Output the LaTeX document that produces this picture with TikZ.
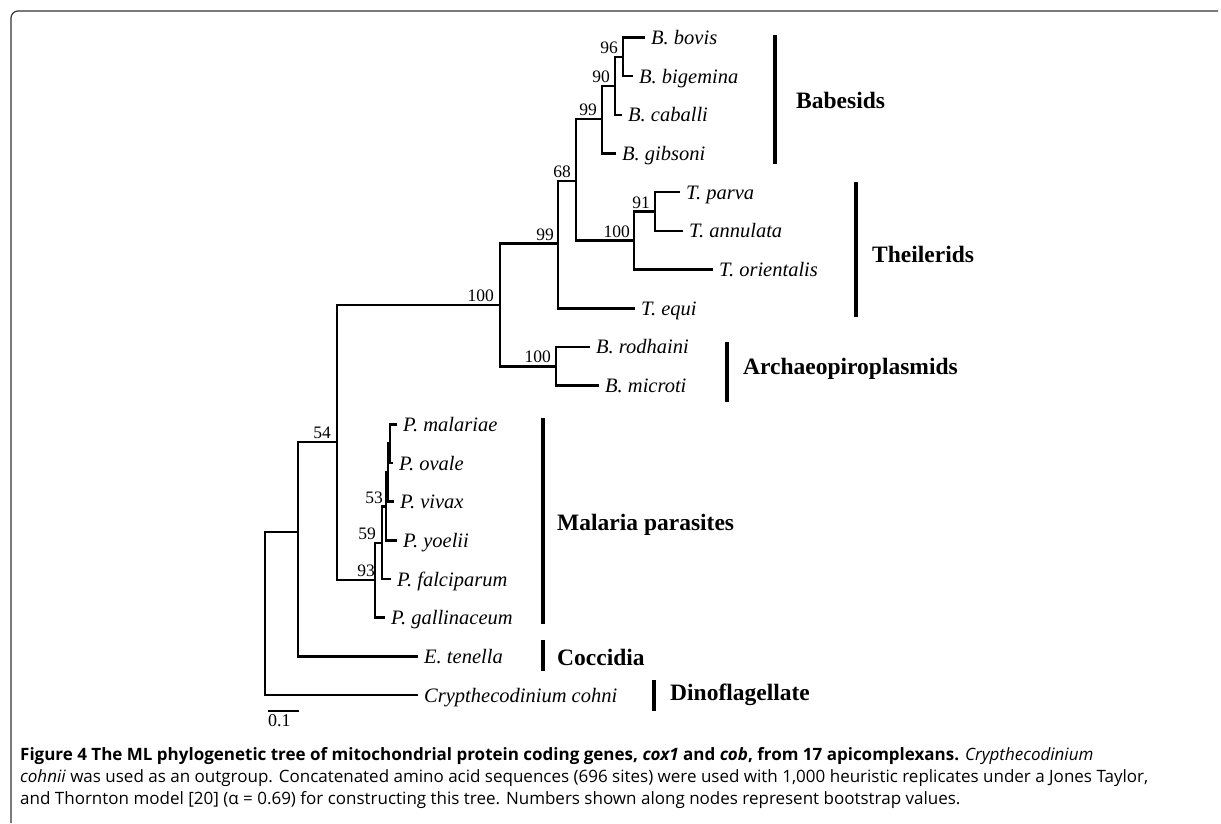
\documentclass[tikz,border=0pt]{standalone}
\usepackage{fontspec}
\setmainfont{Liberation Serif}
\newfontfamily\capfont{Open Sans}
\begin{document}
\begin{tikzpicture}[x=1pt,y=-1pt,
  br/.style={line width=2.5pt, line join=miter},
  leaf/.style={anchor=west, inner xsep=6pt, inner ysep=0pt, font=\fontsize{20.5pt}{24pt}\selectfont\itshape, text height=14pt, text depth=0pt},
  bs/.style={anchor=south east, inner sep=0pt, font=\fontsize{17.5pt}{20pt}\selectfont},
  grp/.style={anchor=west, inner sep=0pt, font=\fontsize{23.5pt}{28pt}\selectfont\bfseries},
  bar/.style={line width=4.5pt},
  capline/.style={anchor=base west, inner sep=0pt, font=\capfont\fontsize{17pt}{20pt}\selectfont},
]
\useasboundingbox (0,0) rectangle (1221,823);
% frame
\draw[line width=1.2pt, draw=black!80, rounded corners=7pt] (11,823) |- (1218,11);
% leaves
\node[leaf] (bovis) at (645,37.5) {B. bovis};
\node[leaf] (bigemina) at (633,76.2) {B. bigemina};
\node[leaf] (caballi) at (622,114.9) {B. caballi};
\node[leaf] (gibsoni) at (616,153.5) {B. gibsoni};
\node[leaf] (parva) at (680,192.2) {T. parva};
\node[leaf] (annulata) at (683,230.9) {T. annulata};
\node[leaf] (orientalis) at (713,269.6) {T. orientalis};
\node[leaf] (equi) at (635,308.3) {T. equi};
\node[leaf] (rodhaini) at (590,346.9) {B. rodhaini};
\node[leaf] (microti) at (599,385.6) {B. microti};
\node[leaf] (malariae) at (397,424.3) {P. malariae};
\node[leaf] (ovale) at (393,463.0) {P. ovale};
\node[leaf] (vivax) at (394,501.7) {P. vivax};
\node[leaf] (yoelii) at (397,540.3) {P. yoelii};
\node[leaf] (falciparum) at (391,579.0) {P. falciparum};
\node[leaf] (gallinaceum) at (385,617.7) {P. gallinaceum};
\node[leaf] (tenella) at (418,656.4) {E. tenella};
\node[leaf] (cohni) at (418,695.1) {Crypthecodinium cohni};
% internal nodes
\coordinate (n96) at (623,56.9);
\coordinate (n90) at (615,85.9);
\coordinate (n99a) at (602,119.2);
\coordinate (n91) at (655,211.5);
\coordinate (n100t) at (634,240.6);
\coordinate (n68) at (576,180.8);
\coordinate (n99b) at (558,243.5);
\coordinate (n100r) at (556,366.3);
\coordinate (n100) at (500,305.0);
\coordinate (nA) at (390,443.7);
\coordinate (nB) at (388,472.7);
\coordinate (n53) at (386,506.5);
\coordinate (n59) at (382,542.8);
\coordinate (n93) at (375,580.2);
\coordinate (n54) at (337,442.0);
\coordinate (nE) at (298,532.0);
\coordinate (root) at (265,600.0);
% branches
\draw[br] (n96) |- (bovis.west);
\draw[br] (n96) |- (bigemina.west);
\draw[br] (n90) |- (n96);
\draw[br] (n90) |- (caballi.west);
\draw[br] (n99a) |- (n90);
\draw[br] (n99a) |- (gibsoni.west);
\draw[br] (n91) |- (parva.west);
\draw[br] (n91) |- (annulata.west);
\draw[br] (n100t) |- (n91);
\draw[br] (n100t) |- (orientalis.west);
\draw[br] (n68) |- (n99a);
\draw[br] (n68) |- (n100t);
\draw[br] (n99b) |- (n68);
\draw[br] (n99b) |- (equi.west);
\draw[br] (n100r) |- (rodhaini.west);
\draw[br] (n100r) |- (microti.west);
\draw[br] (n100) |- (n99b);
\draw[br] (n100) |- (n100r);
\draw[br] (nA) |- (malariae.west);
\draw[br] (nA) |- (ovale.west);
\draw[br] (nB) |- (nA);
\draw[br] (nB) |- (vivax.west);
\draw[br] (n53) |- (nB);
\draw[br] (n53) |- (yoelii.west);
\draw[br] (n59) |- (n53);
\draw[br] (n59) |- (falciparum.west);
\draw[br] (n93) |- (n59);
\draw[br] (n93) |- (gallinaceum.west);
\draw[br] (n54) |- (n100);
\draw[br] (n54) |- (n93);
\draw[br] (nE) |- (n54);
\draw[br] (nE) |- (tenella.west);
\draw[br] (root) |- (nE);
\draw[br] (root) |- (cohni.west);
% bootstrap values
\node[bs] (b96) at ([shift={(-5pt,3pt)}]n96) {96};
\node[bs] (b90) at ([shift={(-5pt,3pt)}]n90) {90};
\node[bs] (b99a) at ([shift={(-5pt,3pt)}]n99a) {99};
\node[bs] (b68) at ([shift={(-5pt,3pt)}]n68) {68};
\node[bs] (b91) at ([shift={(-5pt,3pt)}]n91) {91};
\node[bs] (b100t) at ([shift={(-4pt,3pt)}]n100t) {100};
\node[bs] (b99b) at ([shift={(-4pt,3pt)}]n99b) {99};
\node[bs] (b100) at ([shift={(-6pt,3pt)}]n100) {100};
\node[bs] (b100r) at ([shift={(-5pt,3pt)}]n100r) {100};
\node[bs] (b54) at ([shift={(-6pt,3pt)}]n54) {54};
\node[bs] (b53) at ([shift={(-3pt,3pt)}]n53) {53};
\node[bs] (b59) at ([shift={(-6pt,3pt)}]n59) {59};
\node[bs] (b93) at ([shift={(0pt,3pt)}]n93) {93};
% group bars
\coordinate (g1a) at (775,35); \coordinate (g1b) at (775,164);
\coordinate (g2a) at (856,182); \coordinate (g2b) at (856,317);
\coordinate (g3a) at (727,342); \coordinate (g3b) at (727,402);
\coordinate (g4a) at (543,418); \coordinate (g4b) at (543,624);
\coordinate (g5a) at (543,640); \coordinate (g5b) at (543,671);
\coordinate (g6a) at (654,680); \coordinate (g6b) at (654,711);
\draw[bar] (g1a) -- (g1b);
\draw[bar] (g2a) -- (g2b);
\draw[bar] (g3a) -- (g3b);
\draw[bar] (g4a) -- (g4b);
\draw[bar] (g5a) -- (g5b);
\draw[bar] (g6a) -- (g6b);
\node[grp] (babesids) at (796,100) {Babesids};
\node[grp] (theilerids) at (872,254) {Theilerids};
\node[grp] (archaeo) at (743,369) {Archaeopiroplasmids};
\node[grp] (malaria) at (557,525) {Malaria parasites};
\node[grp] (coccidia) at (557,657) {Coccidia};
\node[grp] (dino) at (670,695) {Dinoflagellate};
% scale bar
\coordinate (s1) at (268,711); \coordinate (s2) at (299,711);
\draw[line width=1.3pt] (s1) -- (s2);
\node[inner sep=0pt, anchor=north west, font=\fontsize{18pt}{20pt}\selectfont] (scale) at (268,714) {0.1};
% caption
\node[capline] (cap1) at (20,760) {\textbf{Figure 4 The ML phylogenetic tree of mitochondrial protein coding genes, \textit{cox1} and \textit{cob}, from 17 apicomplexans.} \textit{Crypthecodinium}};
\node[capline] (cap2) at (20,782) {\textit{cohnii} was used as an outgroup. Concatenated amino acid sequences (696 sites) were used with 1,000 heuristic replicates under a Jones Taylor,};
\node[capline] (cap3) at (20,804) {and Thornton model [20] (α = 0.69) for constructing this tree. Numbers shown along nodes represent bootstrap values.};
\end{tikzpicture}
\end{document}
